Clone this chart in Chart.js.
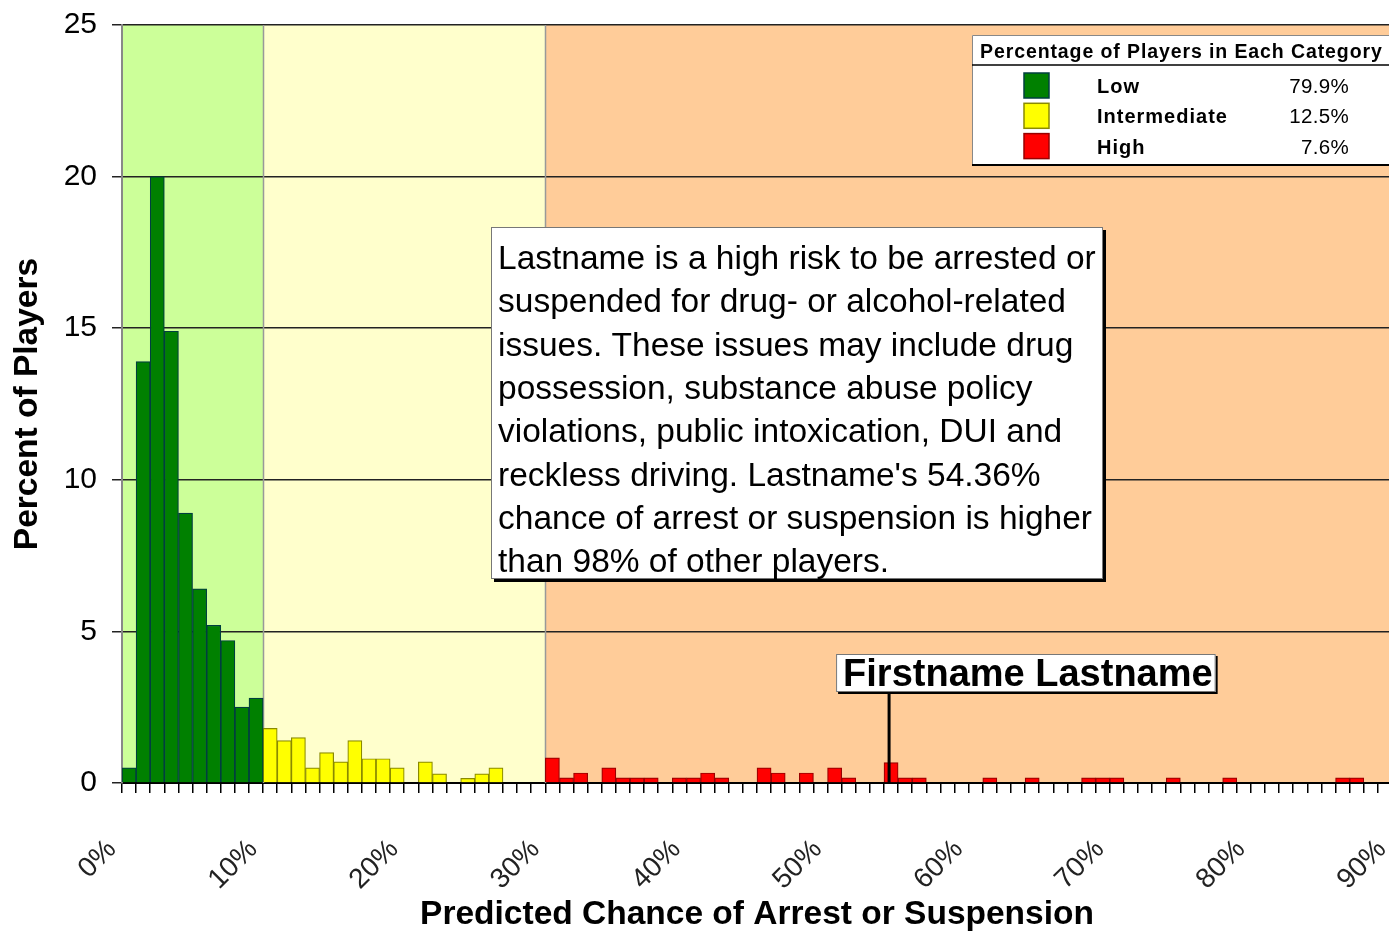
<!DOCTYPE html>
<html>
<head>
<meta charset="utf-8">
<script src="https://cdn.jsdelivr.net/npm/chart.js@4.4.1/dist/chart.umd.min.js"></script>
<style>
html, body { margin: 0; padding: 0; background: #fff; overflow: hidden; }
canvas { display: block; }
</style>
</head>
<body>
<canvas id="c" width="1392" height="932"></canvas>
<script>
// 1% bins of predicted chance (bin start, %)
const bins = Array.from({ length: 90 }, (_, i) => i);

// percent of players per bin
const lowPct = [0.5, 13.9, 20.0, 14.9, 8.9, 6.4, 5.2, 4.7, 2.5, 2.8];                 // 0-9
const midPct = [1.8, 1.4, 1.5, 0.5, 1.0, 0.7, 1.4, 0.8, 0.8, 0.5,                   // 10-19
                0, 0.7, 0.3, 0, 0.15, 0.3, 0.5, 0, 0, 0];                            // 20-29
const highPct = [0.83, 0.17, 0.33, 0, 0.5, 0.17, 0.17, 0.17, 0, 0.17,               // 30-39
                 0.17, 0.33, 0.17, 0, 0, 0.5, 0.33, 0, 0.33, 0,                     // 40-49
                 0.5, 0.17, 0, 0, 0.67, 0.17, 0.17, 0, 0, 0,                        // 50-59
                 0, 0.17, 0, 0, 0.17, 0, 0, 0, 0.17, 0.17,                          // 60-69
                 0.17, 0, 0, 0, 0.17, 0, 0, 0, 0.17, 0,                             // 70-79
                 0, 0, 0, 0, 0, 0, 0.17, 0.17, 0, 0];                               // 80-89

const categories = ['Low', 'Intermediate', 'High'];
const categoryShare = ['79.9%', '12.5%', '7.6%'];
const zoneEdges = [0, 10, 30, 90];
const xTickLabels = ['0%', '10%', '20%', '30%', '40%', '50%', '60%', '70%', '80%', '90%'];
const playerChance = 54.36;
const playerName = 'Firstname Lastname';
const noteLines = [
    'Lastname is a high risk to be arrested or',
    'suspended for drug- or alcohol-related',
    'issues. These issues may include drug',
    'possession, substance abuse policy',
    'violations, public intoxication, DUI and',
    "reckless driving. Lastname's 54.36%",
    'chance of arrest or suspension is higher',
    'than 98% of other players.'
];

const barFill = ['#008000', '#ffff00', '#ff0000'];
const barEdge = ['#003f3f', '#8a8a00', '#990000'];
const zoneFill = ['#ccff99', '#ffffcc', '#ffcc99'];
const FONT = '"Liberation Sans", Arial, sans-serif';

//put each category's values into its own bins, nothing where the bin is empty
function spread(values, start) {
    return bins.map(b => {
        const v = values[b - start];
        return v ? v : null;
    });
}

function boxWithShadow(ctx, x, y, w, h, off) {
    ctx.fillStyle = '#000';
    ctx.fillRect(x + off, y + off, w, h);
    ctx.fillStyle = '#fff';
    ctx.fillRect(x, y, w, h);
    ctx.strokeStyle = '#777';
    ctx.lineWidth = 1;
    ctx.strokeRect(x + 0.5, y + 0.5, w - 1, h - 1);
}

const decorations = {
    id: 'decorations',
    beforeDraw(chart) {
        //coloured risk zones behind everything
        const { ctx, chartArea: a, scales: { x } } = chart;
        ctx.save();
        for (let i = 0; i < zoneFill.length; i++) {
            const x0 = x.getPixelForValue(zoneEdges[i]);
            const x1 = x.getPixelForValue(zoneEdges[i + 1]);
            ctx.fillStyle = zoneFill[i];
            ctx.fillRect(x0, a.top, x1 - x0, a.bottom - a.top);
        }
        ctx.restore();
    },
    beforeDatasetsDraw(chart) {
        //grey zone separators
        const { ctx, chartArea: a, scales: { x } } = chart;
        ctx.save();
        ctx.strokeStyle = '#999';
        ctx.lineWidth = 1.5;
        for (let i = 1; i < zoneEdges.length - 1; i++) {
            const px = Math.round(x.getPixelForValue(zoneEdges[i])) + 0.5;
            ctx.beginPath();
            ctx.moveTo(px, a.top);
            ctx.lineTo(px, a.bottom);
            ctx.stroke();
        }
        ctx.restore();
    },
    afterDraw(chart) {
        const { ctx, chartArea: a, scales: { x } } = chart;
        ctx.save();

        //note box
        boxWithShadow(ctx, 491, 227, 612, 352, 3);
        ctx.fillStyle = '#000';
        ctx.font = '33.5px ' + FONT;
        ctx.textBaseline = 'alphabetic';
        ctx.textAlign = 'left';
        noteLines.forEach((line, i) => ctx.fillText(line, 498, 269 + i * 43.3));

        //player marker
        const mx = x.getPixelForValue(playerChance);
        ctx.strokeStyle = '#000';
        ctx.lineWidth = 3;
        ctx.beginPath();
        ctx.moveTo(mx, 692);
        ctx.lineTo(mx, a.bottom);
        ctx.stroke();
        ctx.font = 'bold 38px ' + FONT;
        const nw = ctx.measureText(playerName).width;
        boxWithShadow(ctx, mx - 53, 654, nw + 10, 38, 2);
        ctx.fillStyle = '#000';
        ctx.fillText(playerName, mx - 46, 686);

        //legend table
        const lx = 972, ly = 35, lw = 430, lh = 130;
        ctx.fillStyle = '#fff';
        ctx.fillRect(lx, ly, lw, lh);
        ctx.strokeStyle = '#888';
        ctx.lineWidth = 1;
        ctx.beginPath();
        ctx.moveTo(lx + 0.5, ly + lh);
        ctx.lineTo(lx + 0.5, ly + 0.5);
        ctx.lineTo(lx + lw, ly + 0.5);
        ctx.stroke();
        ctx.strokeStyle = '#000';
        ctx.lineWidth = 2;
        ctx.beginPath();
        ctx.moveTo(lx, ly + lh);
        ctx.lineTo(lx + lw, ly + lh);
        ctx.stroke();
        ctx.lineWidth = 1.5;
        ctx.beginPath();
        ctx.moveTo(lx, 65);
        ctx.lineTo(lx + lw, 65);
        ctx.stroke();

        ctx.fillStyle = '#000';
        ctx.letterSpacing = '0.9px';
        ctx.font = 'bold 19.5px ' + FONT;
        ctx.fillText('Percentage of Players in Each Category', 980, 58);
        categories.forEach((name, i) => {
            const base = 93 + i * 30.3;
            ctx.fillStyle = barFill[i];
            ctx.fillRect(1024, base - 20, 25, 25);
            ctx.strokeStyle = barEdge[i];
            ctx.lineWidth = 1.5;
            ctx.strokeRect(1024, base - 20, 25, 25);
            ctx.fillStyle = '#000';
            ctx.letterSpacing = '1px';
            ctx.font = 'bold 20px ' + FONT;
            ctx.textAlign = 'left';
            ctx.fillText(name, 1097, base);
            ctx.letterSpacing = '0.3px';
            ctx.font = '20.5px ' + FONT;
            ctx.textAlign = 'right';
            ctx.fillText(categoryShare[i], 1349, base);
        });
        ctx.restore();
    }
};

Chart.defaults.font.family = FONT;

new Chart(document.getElementById('c'), {
    type: 'bar',
    data: {
        labels: bins,
        datasets: [
            { label: categories[0], data: spread(lowPct, 0) },
            { label: categories[1], data: spread(midPct, 10) },
            { label: categories[2], data: spread(highPct, 30) }
        ].map((d, i) => Object.assign(d, {
            xAxisID: 'xb',
            backgroundColor: barFill[i],
            borderColor: barEdge[i],
            borderWidth: 1.2,
            grouped: false,
            barPercentage: 1,
            categoryPercentage: 1
        }))
    },
    options: {
        responsive: false,
        animation: false,
        layout: { padding: { top: 25, left: 0, right: 0, bottom: 0 } },
        plugins: { legend: { display: false }, tooltip: { enabled: false } },
        scales: {
            xb: { type: 'category', display: false, offset: true },
            x: {
                type: 'linear',
                position: 'bottom',
                min: 0,
                max: 90,
                offset: false,
                ticks: {
                    stepSize: 1,
                    autoSkip: false,
                    maxTicksLimit: 200,
                    minRotation: 45,
                    maxRotation: 45,
                    padding: 40,
                    labelOffset: -10,
                    color: '#222',
                    font: { size: 28 },
                    callback: v => v % 10 === 0 ? xTickLabels[v / 10] : ''
                },
                grid: { offset: false, drawOnChartArea: false, tickLength: 10, color: '#000', lineWidth: 1.5 },
                border: { color: '#000', width: 2 },
                title: {
                    display: true,
                    text: 'Predicted Chance of Arrest or Suspension',
                    color: '#000',
                    font: { size: 33.5, weight: 'bold', lineHeight: 1 },
                    padding: 0
                },
                afterFit(s) {
                    s.height = 149;
                    s.paddingLeft = 0;
                    s.paddingRight = 0;
                }
            },
            y: {
                min: 0,
                max: 25,
                ticks: { stepSize: 5, padding: 15, color: '#000', font: { size: 30 } },
                grid: { color: '#222', lineWidth: 1.5, tickLength: 10 },
                border: { color: '#888', width: 2 },
                title: {
                    display: true,
                    text: 'Percent of Players',
                    color: '#000',
                    font: { size: 33.5, weight: 'bold' },
                    padding: { top: 8, bottom: 0 }
                },
                afterFit(s) {
                    s.width = 122;
                    s.paddingTop = 0;
                    s.paddingBottom = 0;
                }
            }
        }
    },
    plugins: [decorations]
});
</script>
</body>
</html>
